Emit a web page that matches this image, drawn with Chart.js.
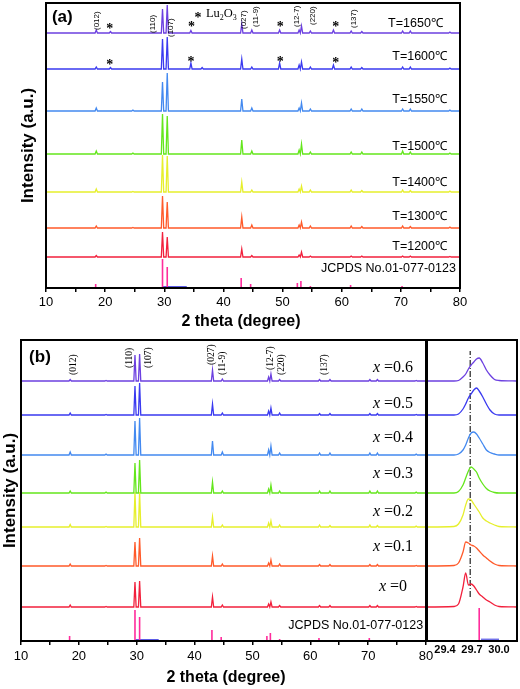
<!DOCTYPE html>
<html>
<head>
<meta charset="utf-8">
<script src="https://cdn.jsdelivr.net/npm/chart.js@4"></script>
<style>
  body { margin: 0; background: #fff; }
  #wrap { position: relative; width: 520px; height: 689px; overflow: hidden; }
  canvas { position: absolute; }
</style>
</head>
<body>
<div id="wrap">
  <canvas id="chartA" width="520" height="332" style="left:0;top:0"></canvas>
  <canvas id="chartB" width="440" height="354" style="left:0;top:335px"></canvas>
  <canvas id="chartC" width="94" height="354" style="left:426px;top:335px"></canvas>
</div>
<script>
// 2 theta positions of the diffraction peaks
const peakPos = [18.5, 20.9, 24.7, 29.7, 30.5, 34.5, 36.4, 43.1, 44.8, 49.5, 52.8, 53.2, 54.7, 58.6, 61.6, 63.4, 70.3, 71.6, 78.3];

// panel (a): sintering temperature, peak heights (a.u.) and stacking offsets
const tempLabels = ['T=1650℃', 'T=1600℃', 'T=1550℃', 'T=1500℃', 'T=1400℃', 'T=1300℃', 'T=1200℃'];
const h1650 = [3, 1.5, 0, 24, 28, 2.5, 0, 9, 3, 3, 3, 7, 2, 3, 2, 1.5, 2, 2, 1];
const h1600 = [2, 1.5, 0, 30, 32, 6, 1.5, 10, 2, 6, 4, 7, 2, 4, 2, 1.5, 2, 2, 1];
const h1550 = [3, 0, 1, 29, 38, 0, 0, 12, 3, 0, 3, 8, 2, 0, 2, 2, 2, 2, 1];
const h1500 = [3, 0, 1, 40, 38, 0, 0, 14, 3, 0, 4, 10, 2, 0, 2, 2, 3, 2, 1];
const h1400 = [3, 0, 0.5, 37, 36, 0, 0, 10, 2, 0, 3, 6, 2, 0, 2, 1.5, 2, 1.5, 1];
const h1300 = [2, 0, 0.5, 32, 26, 0, 0, 11, 3, 0, 3, 6, 2, 0, 2, 1.5, 2, 1.5, 1];
const h1200 = [1.5, 0, 0, 25, 20, 0, 0, 8, 1.5, 0, 2, 5, 1, 0, 1, 1, 1, 1, 0.5];
const offsetsA = [255, 219, 177, 134, 96, 60, 31];

// panel (b): composition x, peak heights and offsets
const xLabels = ['0.6', '0.5', '0.4', '0.3', '0.2', '0.1', '0'];
const hx06 = [1.5, 0, 0.5, 26, 27, 0, 0, 11, 2, 0, 4, 7, 1.5, 0, 1.5, 1.5, 1.5, 1.5, 0.5];
const hx05 = [2, 0, 0.5, 29, 32, 0, 0, 11, 2, 0, 4, 7, 2, 0, 1.5, 1.5, 1.5, 1.5, 0.5];
const hx04 = [3, 0, 1, 34, 37, 0, 0, 14, 3, 0, 5, 9, 2, 0, 2, 2, 2, 2, 1];
const hx03 = [2, 0, 1, 30, 33, 0, 0, 11, 2, 0, 4, 8, 2, 0, 2, 2, 2, 2, 1];
const hx02 = [2.5, 0, 0.5, 35, 35, 0, 0, 10, 2, 0, 4, 6, 2, 0, 2, 1.5, 2, 1.5, 1];
const hx01 = [2, 0, 0.5, 24, 28, 0, 0, 10, 2, 0, 3, 6, 2, 0, 1.5, 1.5, 1.5, 1.5, 0.5];
const hx00 = [2, 0, 0.5, 25, 26, 0, 0, 10, 2, 0, 3, 5, 1.5, 0, 1.5, 1.5, 1.5, 1.5, 0.5];
const offsetsB = [260, 226, 186, 148, 114, 75, 34];

// JCPDS No.01-077-0123 reference lines
const stickPos = [18.4, 24.7, 29.7, 30.5, 33.8, 43.0, 44.6, 52.5, 53.1, 54.7, 61.5, 62.7, 63.3, 64.0, 70.2, 71.6, 78.1, 78.6];
const stickA = [4, 1, 29, 21, 1, 10, 4, 5, 7, 2, 3, 1, 1, 1, 2, 1, 1, 1];
const stickB = [5, 1, 31, 24, 1, 11, 4, 5, 8, 2, 3, 1, 1, 1, 3, 1, 1, 1];
const luRange = [29.8, 33.8];

// inset: (110) peak region
const insetX = [29.2, 29.5, 29.55, 29.6, 29.63, 29.66, 29.69, 29.72, 29.75, 29.78, 29.82, 29.86, 29.9, 29.95, 30.0, 30.2];
const in06 = [0, 0, 0.5, 4, 7, 12, 16, 19, 22, 23, 18, 11, 6, 1.5, 0.5, 0];
const in05 = [0, 0, 1, 6, 11, 17, 21, 25, 27, 24, 18, 11, 5, 1, 0, 0];
const in04 = [0, 0, 1, 5, 10, 17, 22, 23, 21, 17, 11, 5, 2.5, 1, 0, 0];
const in03 = [0, 0, 1.5, 8, 15, 22, 26, 24, 21, 15, 9, 4.5, 2, 0.5, 0, 0];
const in02 = [0, 0.5, 3, 12, 22, 28, 27, 23, 19, 15, 9, 6, 4, 2, 0.5, 0];
const in01 = [0, 0.5, 3, 14, 24, 23, 21, 20, 18, 15, 11, 8, 5, 2, 0.5, 0];
const in00 = [0, 0.5, 3, 20, 34, 22, 23, 21, 17, 13, 10, 7, 5, 2, 0.5, 0];
const insetStick = [29.78, 33];
const insetLu = [29.8, 30.0];
const insetRef = [29.68, 44, 290];
const insetTicks = [29.4, 29.7, 30.0];
const mainTicks = [10, 15, 20, 25, 30, 35, 40, 45, 50, 55, 60, 65, 70, 75, 80];

const colors = ['#6c40e0', '#3a3af0', '#4389f0', '#64e61c', '#e6ef2c', '#ff5a2a', '#f2203c'];
const SANS = '"Liberation Sans", Arial, sans-serif';
const SERIF = '"Liberation Serif", "Times New Roman", serif';

function pattern(heights, off) {
  const pts = [{x: 10, y: off}];
  peakPos.forEach((p, i) => {
    const h = heights[i];
    if (!h) return;
    pts.push({x: p - 0.2, y: off}, {x: p, y: off + h}, {x: p + 0.2, y: off});
  });
  pts.push({x: 80, y: off});
  return pts;
}
function sticks(heights) {
  const pts = [];
  stickPos.forEach((p, i) => pts.push({x: p, y: 0}, {x: p, y: heights[i]}, {x: p, y: null}));
  return pts;
}
function line(data, color, w) {
  return {data, borderColor: color, borderWidth: w || 1.3, pointRadius: 0, fill: false, tension: 0};
}

// frame around the plot area plus the text labels
const deco = {
  id: 'deco',
  afterDraw(chart, args, opts) {
    const {ctx, chartArea: a, scales} = chart;
    ctx.save();
    ctx.strokeStyle = '#000';
    ctx.lineWidth = 2;
    ctx.strokeRect(a.left, a.top, a.right - a.left, a.bottom - a.top);
    (opts.texts || []).forEach(t => {
      const x = t.px ? t.x : scales.x.getPixelForValue(t.x);
      const y = (t.px ? t.y : scales.y.getPixelForValue(t.y)) + (t.dy || 0);
      ctx.fillStyle = '#000';
      ctx.textBaseline = 'middle';
      if (t.rot) {
        ctx.save();
        ctx.translate(x, y);
        ctx.rotate(-Math.PI / 2);
        ctx.font = t.font;
        ctx.textAlign = 'left';
        ctx.fillText(t.text, 0, 0);
        ctx.restore();
      } else if (t.parts) {
        let w = 0;
        t.parts.forEach(p => { ctx.font = p[1]; w += ctx.measureText(p[0]).width; });
        let cx = t.align === 'center' ? x - w / 2 : (t.align === 'right' ? x - w : x);
        ctx.textAlign = 'left';
        t.parts.forEach(p => { ctx.font = p[1]; ctx.fillText(p[0], cx, y + (p[2] || 0)); cx += ctx.measureText(p[0]).width; });
      } else {
        ctx.font = t.font;
        ctx.textAlign = t.align || 'left';
        ctx.fillText(t.text, x, y);
      }
    });
    ctx.restore();
  }
};

function xAxis(min, max, height, pad, fontSize) {
  return {
    type: 'linear', min, max,
    afterFit: s => { s.height = height; },
    afterBuildTicks: s => { s.ticks = mainTicks.map(v => ({value: v})); },
    grid: {display: true, drawOnChartArea: false, drawTicks: true, tickLength: 4, color: '#000', lineWidth: 1.5},
    border: {display: false},
    ticks: {autoSkip: false, maxRotation: 0, padding: pad, color: '#000',
      font: {family: SANS, size: fontSize}, callback: v => (v % 10 === 0 ? v : '')}
  };
}
function yAxis(max, width, titlePad) {
  return {
    min: 0, max,
    afterFit: s => { s.width = width; },
    grid: {display: false}, border: {display: false},
    ticks: {display: false},
    title: {display: true, text: 'Intensity (a.u.)', color: '#000',
      font: {family: SANS, size: 17, weight: 'bold'}, padding: {top: titlePad, bottom: 0}}
  };
}

Chart.defaults.animation = false;
Chart.defaults.plugins.legend.display = false;
Chart.defaults.plugins.tooltip.enabled = false;

// ---------- panel (a) ----------
const seriesA = [h1650, h1600, h1550, h1500, h1400, h1300, h1200];
const dsA = seriesA.map((h, i) => line(pattern(h, offsetsA[i]), colors[i]));
dsA.push(line(sticks(stickA), '#ff2c9c', 1.6));
dsA.push(line([{x: luRange[0], y: 1.2}, {x: luRange[1], y: 1.2}], '#3434e0', 1.2));

const hklA = [['(012)', 18.6, 258], ['(110)', 28.1, 255], ['(107)', 31.1, 251], ['(027)', 43.5, 259],
  ['(11-9)', 45.5, 261], ['(12-7)', 52.4, 261], ['(220)', 55.1, 263], ['(137)', 62.1, 260]];
const starsA = [[20.8, 262], [34.6, 264], [49.6, 264], [59.0, 264], [20.8, 226], [34.5, 229], [49.6, 229], [59.0, 228]];
const textsA = [
  {text: '(a)', x: 11.0, y: 271, font: 'bold 17px ' + SANS},
  {text: '2 theta (degree)', x: 241, y: 322, px: true, align: 'center', font: 'bold 16px ' + SANS},
  {text: 'JCPDS No.01-077-0123', x: 79.3, y: 19, align: 'right', font: '12.5px ' + SANS},
  {parts: [['*', 'bold 14px ' + SERIF, 4], ['  ', '9px ' + SERIF], ['Lu', '12.5px ' + SERIF], ['2', '8px ' + SERIF, 4], ['O', '12.5px ' + SERIF], ['3', '8px ' + SERIF, 4]], x: 35.1, y: 274}
];
hklA.forEach(h => textsA.push({text: h[0], x: h[1], y: h[2], rot: true, font: '8px ' + SANS}));
starsA.forEach(s => textsA.push({text: '*', x: s[0], y: s[1], dy: 3, align: 'center', font: 'bold 14px ' + SERIF}));
const tempY = [264, 231, 188, 141, 105, 71, 41];
tempLabels.forEach((t, i) => textsA.push({text: t, x: i === 0 ? 77.1 : 77.8, y: tempY[i], align: 'right', font: '12.5px ' + SANS}));

new Chart(document.getElementById('chartA'), {
  type: 'line',
  data: {datasets: dsA},
  options: {
    responsive: false,
    layout: {padding: {left: 0, right: 60, top: 3, bottom: 0}},
    scales: {x: xAxis(10, 80, 44, 3, 13), y: yAxis(285, 46, 18)},
    plugins: {deco: {texts: textsA}}
  },
  plugins: [deco]
});

// ---------- panel (b) main ----------
const seriesB = [hx06, hx05, hx04, hx03, hx02, hx01, hx00];
const dsB = seriesB.map((h, i) => line(pattern(h, offsetsB[i]), colors[i]));
dsB.push(line(sticks(stickB), '#ff2c9c', 1.6));
dsB.push(line([{x: luRange[0], y: 1.2}, {x: luRange[1], y: 1.2}], '#3434e0', 1.2));

const hklB = [['(012)', 19.0, 266], ['(110)', 28.7, 273], ['(107)', 32.1, 273], ['(027)', 43.0, 276],
  ['(11-9)', 44.9, 266], ['(12-7)', 53.2, 271], ['(220)', 55.1, 266], ['(137)', 62.4, 266]];
const textsB = [
  {text: '(b)', x: 11.4, y: 284, font: 'bold 17px ' + SANS},
  {text: '2 theta (degree)', x: 226, y: 343, px: true, align: 'center', font: 'bold 16px ' + SANS},
  {text: 'JCPDS No.01-077-0123', x: 79.5, y: 15, align: 'right', font: '12.5px ' + SANS}
];
hklB.forEach(h => textsB.push({text: h[0], x: h[1], y: h[2], rot: true, font: '9.5px ' + SERIF}));
const compY = [273, 237, 203, 167, 129, 94, 54];
xLabels.forEach((v, i) => textsB.push({parts: [['x', 'italic 16px ' + SERIF], [' =' + v, '16px ' + SERIF]], x: 74.3, y: compY[i], align: 'center'}));

new Chart(document.getElementById('chartB'), {
  type: 'line',
  data: {datasets: dsB},
  options: {
    responsive: false,
    layout: {padding: {left: 0, right: 14, top: 5, bottom: 0}},
    scales: {x: xAxis(10, 80, 48, 4, 13), y: yAxis(301, 21, 0)},
    plugins: {deco: {texts: textsB}}
  },
  plugins: [deco]
});

// ---------- panel (b) inset ----------
const insetSeries = [in06, in05, in04, in03, in02, in01, in00];
const dsC = insetSeries.map((h, i) => {
  const ds = line(insetX.map((x, k) => ({x, y: offsetsB[i] + h[k]})), colors[i], 1.3);
  ds.cubicInterpolationMode = 'monotone';
  return ds;
});
dsC.push(line([{x: insetStick[0], y: 0}, {x: insetStick[0], y: insetStick[1]}], '#ff2c9c', 1.6));
dsC.push(line([{x: insetLu[0], y: 1.8}, {x: insetLu[1], y: 1.8}], '#3434e0', 1));
const refDs = line([{x: insetRef[0], y: insetRef[1]}, {x: insetRef[0], y: insetRef[2]}], '#222', 1.2);
refDs.borderDash = [6, 2, 1, 2];
dsC.push(refDs);

new Chart(document.getElementById('chartC'), {
  type: 'line',
  data: {datasets: dsC},
  options: {
    responsive: false,
    layout: {padding: {left: 1, right: 3, top: 5, bottom: 0}},
    scales: {
      x: {type: 'linear', min: 29.2, max: 30.2,
        afterFit: s => { s.height = 48; },
        afterBuildTicks: s => { s.ticks = insetTicks.map(v => ({value: v})); },
        grid: {display: false, drawTicks: false}, border: {display: false},
        ticks: {autoSkip: false, maxRotation: 0, padding: 2, color: '#000',
          font: {family: SANS, size: 11, weight: 'bold'}, callback: v => v.toFixed(1)}},
      y: {display: false, min: 0, max: 301}
    },
    plugins: {deco: {texts: []}}
  },
  plugins: [deco]
});
</script>
</body>
</html>
